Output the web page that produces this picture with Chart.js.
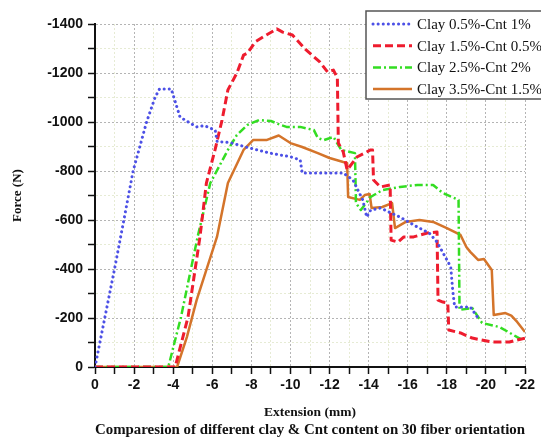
<!DOCTYPE html>
<html>
<head>
<meta charset="utf-8">
<script src="https://cdn.jsdelivr.net/npm/chart.js@4/dist/chart.umd.min.js"></script>
<style>
  html, body { margin: 0; padding: 0; background: #fff; }
  #wrap { width: 541px; height: 439px; }
</style>
</head>
<body>
<div id="wrap"><canvas id="force-chart" width="541" height="439"></canvas></div>
<script>
// extension (mm) / force (N), per mix
const clay05Ext = [0, -0.5, -1.0, -1.5, -1.95, -2.64, -3.07, -3.3, -3.9, -4.35, -5.2, -5.6, -6.15, -6.25, -6.9, -7.9, -8.95, -10.0, -10.5, -10.6, -12.7, -13.2, -13.7, -13.9, -14.1, -14.6, -15.6, -16.5, -17.1, -17.5, -18.2, -18.3, -18.4, -19.2, -19.6];
const clay05Force = [0, -200, -400, -610, -800, -1000, -1100, -1135, -1135, -1020, -980, -985, -967, -920, -916, -894, -873, -858, -845, -792, -792, -763, -682, -612, -640, -649, -612, -571, -547, -510, -409, -314, -245, -245, -200];

const clay15Ext = [0, -4.1, -4.76, -5.37, -5.7, -6.14, -6.5, -6.8, -7.26, -7.6, -7.8, -8.2, -8.6, -9.3, -9.6, -10.1, -10.8, -11.5, -11.9, -12.2, -12.4, -12.45, -12.7, -12.9, -13.4, -14.1, -14.2, -14.25, -14.6, -15.1, -15.15, -15.5, -15.8, -16.3, -17.0, -17.5, -17.55, -17.8, -18.05, -18.1, -18.7, -19.3, -20.3, -21.2, -22];
const clay15Force = [0, 0, -204, -531, -751, -886, -1008, -1131, -1200, -1273, -1281, -1327, -1347, -1380, -1367, -1355, -1294, -1245, -1204, -1212, -1180, -914, -878, -804, -857, -886, -886, -763, -735, -743, -518, -510, -531, -531, -547, -551, -273, -265, -261, -151, -139, -118, -102, -102, -118];

const clay25Ext = [0, -3.75, -4.4, -5.25, -5.9, -6.8, -7.26, -7.8, -8.4, -9.0, -9.5, -9.8, -10.5, -11.2, -11.4, -11.7, -12.2, -12.6, -13.3, -13.35, -13.6, -14.1, -14.7, -15.6, -16.5, -17.3, -17.8, -18.6, -18.65, -19.3, -19.8, -20.7, -21.6, -21.9];
const clay25Force = [0, 0, -204, -531, -751, -886, -947, -988, -1008, -1004, -988, -980, -980, -967, -935, -926, -939, -886, -873, -669, -641, -694, -722, -735, -743, -743, -710, -682, -233, -241, -180, -163, -122, -110];

const clay35Ext = [0, -4.2, -4.7, -5.2, -6.24, -6.8, -7.6, -8.1, -8.8, -9.4, -10.0, -10.6, -11.4, -12.0, -12.7, -12.9, -12.95, -13.55, -13.8, -14.05, -14.15, -14.7, -15.2, -15.35, -15.9, -16.6, -17.3, -18.0, -18.7, -19.0, -19.2, -19.6, -19.9, -20.3, -20.4, -21.0, -21.3, -21.6, -22.0];
const clay35Force = [0, 0, -122, -273, -531, -751, -886, -927, -927, -945, -914, -898, -873, -853, -837, -833, -694, -682, -702, -706, -649, -653, -669, -567, -592, -600, -592, -567, -539, -490, -470, -437, -441, -396, -212, -220, -210, -184, -143];

const seriesLabels = ['Clay 0.5%-Cnt 1%', 'Clay 1.5%-Cnt 0.5%', 'Clay 2.5%-Cnt 2%', 'Clay 3.5%-Cnt 1.5%'];

const toPoints = (xs, ys) => xs.map((x, i) => ({ x, y: ys[i] }));

const tickFont = { family: '"Liberation Sans", Arial, sans-serif', size: 14, weight: 'bold' };
const serifFamily = '"Liberation Serif", "Times New Roman", serif';

// legend box sitting inside the plot, top right
const boxLegend = {
  id: 'boxLegend',
  afterDraw(chart) {
    const { ctx } = chart;
    const left = 366, top = 11, width = 180, height = 88, rowH = 21.7;
    ctx.save();
    ctx.fillStyle = '#fff';
    ctx.fillRect(left, top, width, height);
    ctx.strokeStyle = '#555';
    ctx.lineWidth = 1.5;
    ctx.strokeRect(left, top, width, height);
    chart.data.datasets.forEach((ds, i) => {
      const y = top + 13 + i * rowH;
      ctx.beginPath();
      ctx.strokeStyle = ds.borderColor;
      ctx.lineWidth = ds.borderWidth;
      ctx.lineCap = ds.borderCapStyle || 'butt';
      ctx.setLineDash(ds.borderDash || []);
      ctx.moveTo(373, y);
      ctx.lineTo(412, y);
      ctx.stroke();
      ctx.setLineDash([]);
      ctx.fillStyle = '#111';
      ctx.font = '15px ' + serifFamily;
      ctx.textBaseline = 'middle';
      ctx.fillText(ds.label, 417, y + 1);
    });
    ctx.restore();
  }
};

const gridColor = (ctx, step) => {
  const v = Math.abs(Math.round(ctx.tick.value));
  return v % (2 * step) === 0 ? '#b4b4b4' : '#e6ebd4';
};

new Chart(document.getElementById('force-chart'), {
  type: 'line',
  data: {
    datasets: [
      {
        label: seriesLabels[0],
        data: toPoints(clay05Ext, clay05Force),
        borderColor: '#4c50e6',
        borderWidth: 3,
        borderDash: [0.1, 5],
        borderCapStyle: 'round'
      },
      {
        label: seriesLabels[1],
        data: toPoints(clay15Ext, clay15Force),
        borderColor: '#ee1c2e',
        borderWidth: 3,
        borderDash: [8, 4]
      },
      {
        label: seriesLabels[2],
        data: toPoints(clay25Ext, clay25Force),
        borderColor: '#33dd22',
        borderWidth: 2.5,
        borderDash: [8, 3, 2, 3]
      },
      {
        label: seriesLabels[3],
        data: toPoints(clay35Ext, clay35Force),
        borderColor: '#d4742a',
        borderWidth: 2.5
      }
    ]
  },
  options: {
    responsive: false,
    animation: false,
    elements: { point: { radius: 0 }, line: { tension: 0, fill: false, borderJoinStyle: 'round' } },
    layout: { padding: { left: 0, top: 24, right: 16, bottom: 0 } },
    plugins: {
      legend: { display: false },
      tooltip: { enabled: false },
      title: {
        display: true,
        position: 'bottom',
        fullSize: false,
        text: 'Comparesion of different clay & Cnt content on 30 fiber orientation',
        color: '#111',
        font: { family: serifFamily, size: 15, weight: 'bold' },
        padding: { top: 0, bottom: 0 }
      }
    },
    scales: {
      x: {
        type: 'linear',
        min: -22,
        max: 0,
        reverse: true,
        afterFit: (scale) => { scale.height = 54; },
        ticks: {
          stepSize: 1,
          autoSkip: false,
          maxRotation: 0,
          color: '#111',
          font: tickFont,
          padding: 3,
          callback: (v) => (v % 2 === 0 ? String(v) : '')
        },
        grid: {
          color: (ctx) => gridColor(ctx, 1),
          lineWidth: 1,
          tickLength: 7,
          tickColor: '#111',
          tickWidth: 1.5
        },
        border: { display: true, color: '#111', width: 2, dash: [2, 2] },
        title: {
          display: true,
          text: 'Extension (mm)',
          color: '#111',
          font: { family: serifFamily, size: 13.5, weight: 'bold' },
          padding: { top: 0, bottom: 0 }
        }
      },
      y: {
        type: 'linear',
        min: -1400,
        max: 0,
        reverse: true,
        afterFit: (scale) => { scale.width = 95; },
        ticks: {
          stepSize: 100,
          autoSkip: false,
          color: '#111',
          font: tickFont,
          padding: 5,
          callback: (v) => (v % 200 === 0 ? String(v) : '')
        },
        grid: {
          color: (ctx) => gridColor(ctx, 100),
          lineWidth: 1,
          tickLength: 7,
          tickColor: '#111',
          tickWidth: 1.5
        },
        border: { display: true, color: '#111', width: 2, dash: [2, 2] },
        title: {
          display: true,
          text: 'Force (N)',
          color: '#111',
          font: { family: serifFamily, size: 13, weight: 'bold' },
          padding: { top: 10, bottom: 0 }
        }
      }
    }
  },
  plugins: [boxLegend]
});
</script>
</body>
</html>
